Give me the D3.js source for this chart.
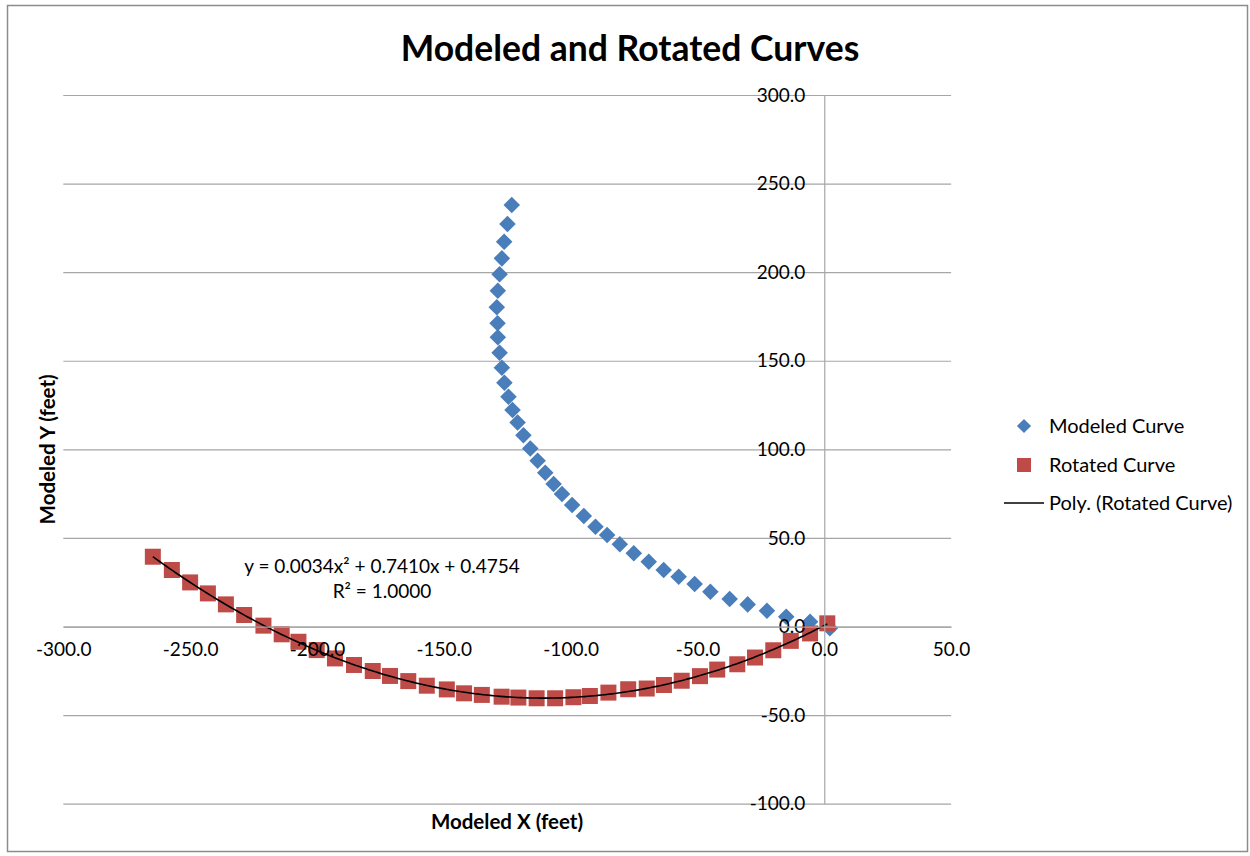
<!DOCTYPE html>
<html>
<head>
<meta charset="utf-8">
<script src="https://cdn.jsdelivr.net/npm/d3@7"></script>
<style>
  html, body { margin: 0; padding: 0; background: #fff; }
  svg { display: block; font-family: Lato, Carlito, Calibri, "Open Sans", sans-serif; }
</style>
</head>
<body>
<svg id="chart" width="1250" height="856"></svg>
<script>
// ---- data ----
const modeledX = [-123.2, -124.9, -126.2, -127.1, -128.0, -128.7, -129.1, -128.8, -128.7, -128.0,
  -127.1, -126.1, -124.5, -122.9, -120.9, -118.6, -115.9, -113.0, -110.0, -106.7,
  -103.4, -99.4, -94.8, -90.2, -85.6, -80.6, -75.1, -69.2, -63.3, -57.4,
  -51.1, -44.9, -37.3, -30.2, -22.6, -15.0, -5.6, 2.2];
const modeledY = [237.9, 227.2, 217.2, 207.8, 198.8, 189.5, 180.2, 171.2, 163.3, 154.5,
  146.1, 137.6, 129.7, 122.2, 115.2, 108.0, 100.5, 93.6, 86.8, 80.4,
  74.8, 68.6, 62.4, 56.3, 51.7, 46.4, 41.3, 36.6, 31.9, 28.1,
  24.0, 19.6, 15.5, 12.5, 8.9, 5.5, 2.7, -1.0];
const rotatedX = [-264.7, -257.2, -250.0, -243.0, -235.9, -228.7, -221.1, -213.9, -207.3, -200.1,
  -192.9, -185.4, -178.0, -171.2, -164.0, -156.7, -148.8, -142.0, -135.0, -127.2,
  -120.6, -113.4, -106.1, -98.9, -92.4, -85.1, -77.3, -70.0, -63.2, -56.2,
  -49.0, -42.2, -34.3, -27.3, -20.1, -13.2, -5.6, 1.2];
const rotatedY = [39.4, 31.9, 24.9, 18.7, 12.5, 6.5, 0.5, -4.4, -8.6, -13.3,
  -18.0, -21.7, -25.1, -27.9, -30.8, -33.4, -35.5, -37.7, -38.6, -39.6,
  -40.1, -40.5, -40.5, -39.9, -39.2, -37.3, -35.4, -35.0, -33.0, -30.6,
  -28.0, -24.3, -21.3, -17.5, -13.4, -8.1, -3.9, 1.8];
const xTicks = [-300, -250, -200, -150, -100, -50, 0, 50];
const yTicks = [-100, -50, 0, 50, 100, 150, 200, 250, 300];
const seriesNames = ["Modeled Curve", "Rotated Curve", "Poly. (Rotated Curve)"];
const titleText = "Modeled and Rotated Curves";
const xTitle = "Modeled X (feet)";
const yTitle = "Modeled Y (feet)";
const eqLines = ["y = 0.0034x\u00B2 + 0.7410x + 0.4754", "R\u00B2 = 1.0000"];

// ---- setup ----
const svg = d3.select("#chart");
const blue = "#4A7EBB", red = "#BE4B48", grid = "#A6A6A6";
const fmt = d => d.toFixed(1);

const x = d3.scaleLinear().domain([-300, 50]).range([63.3, 951.1]);
const y = d3.scaleLinear().domain([-100, 300]).range([803.7, 95.0]);

// outer border
svg.append("rect").attr("x", 7.5).attr("y", 5.5).attr("width", 1240).attr("height", 846)
  .attr("fill", "none").attr("stroke", "#8C8C8C").attr("stroke-width", 1.5);

// horizontal gridlines
const gGrid = svg.append("g").attr("transform", `translate(${x(-300)},0)`)
  .call(d3.axisLeft(y).tickValues(yTicks).tickSize(-(x(50) - x(-300))).tickFormat(""));
gGrid.select(".domain").remove();
gGrid.selectAll(".tick line").attr("stroke", grid).attr("stroke-width", 1.2);

// vertical axis line at x = 0
const gY = svg.append("g").attr("transform", `translate(${x(0)},0)`)
  .call(d3.axisLeft(y).tickValues(yTicks).tickSize(0).tickSizeOuter(0).tickPadding(19)
    .tickFormat(fmt));
gY.select(".domain").attr("stroke", grid).attr("stroke-width", 1.2);

// horizontal axis at y = 0
const gX = svg.append("g").attr("transform", `translate(0,${y(0)})`)
  .call(d3.axisBottom(x).tickValues(xTicks).tickSize(0).tickSizeOuter(0).tickPadding(16)
    .tickFormat(fmt));
gX.select(".domain").attr("stroke", grid).attr("stroke-width", 1.2);

// series: modeled (diamonds)
const diamond = d3.symbol().type(d3.symbolSquare).size(11.7 * 11.7);
svg.append("g").selectAll("path").data(modeledX.map((v, i) => [v, modeledY[i]])).join("path")
  .attr("d", diamond)
  .attr("transform", d => `translate(${x(d[0])},${y(d[1])}) rotate(45)`)
  .attr("fill", blue);

// series: rotated (squares)
const square = d3.symbol().type(d3.symbolSquare).size(16 * 16);
svg.append("g").selectAll("path").data(rotatedX.map((v, i) => [v, rotatedY[i]])).join("path")
  .attr("d", square)
  .attr("transform", d => `translate(${x(d[0])},${y(d[1])})`)
  .attr("fill", red);

// polynomial (order 2) least-squares trendline of the rotated curve
function polyFit2(xs, ys) {
  let S = Array(5).fill(0), T = Array(3).fill(0);
  xs.forEach((xv, i) => {
    for (let k = 0; k < 5; k++) S[k] += Math.pow(xv, k);
    for (let k = 0; k < 3; k++) T[k] += Math.pow(xv, k) * ys[i];
  });
  const A = [[S[0], S[1], S[2], T[0]], [S[1], S[2], S[3], T[1]], [S[2], S[3], S[4], T[2]]];
  for (let c = 0; c < 3; c++) {
    let p = c;
    for (let r = c + 1; r < 3; r++) if (Math.abs(A[r][c]) > Math.abs(A[p][c])) p = r;
    [A[c], A[p]] = [A[p], A[c]];
    for (let r = 0; r < 3; r++) if (r !== c) {
      const f = A[r][c] / A[c][c];
      for (let k = c; k < 4; k++) A[r][k] -= f * A[c][k];
    }
  }
  return [A[0][3] / A[0][0], A[1][3] / A[1][1], A[2][3] / A[2][2]];
}
const coef = polyFit2(rotatedX, rotatedY);
const xMin = d3.min(rotatedX), xMax = d3.max(rotatedX);
const trend = d3.range(0, 201).map(i => {
  const xv = xMin + (xMax - xMin) * i / 200;
  return [xv, coef[0] + coef[1] * xv + coef[2] * xv * xv];
});
svg.append("path").datum(trend)
  .attr("d", d3.line().x(d => x(d[0])).y(d => y(d[1])))
  .attr("fill", "none").attr("stroke", "#000").attr("stroke-width", 1.6);

// tick label styling (drawn above the marks)
[gY, gX].forEach(g => {
  g.raise();
  g.selectAll(".tick text").attr("font-size", 19).attr("fill", "#000")
    .attr("font-family", "Lato, Carlito, Calibri, sans-serif");
});

// trendline equation
svg.append("g").selectAll("text").data(eqLines).join("text")
  .attr("x", 382).attr("y", (d, i) => 573 + i * 25)
  .attr("text-anchor", "middle").attr("font-size", 19).attr("fill", "#000")
  .text(d => d);

// title
svg.append("text").attr("x", 630).attr("y", 61).attr("text-anchor", "middle")
  .attr("font-size", 35.5).attr("font-weight", "bold").attr("fill", "#000").text(titleText);

// axis titles
svg.append("text").attr("x", 507).attr("y", 829).attr("text-anchor", "middle")
  .attr("font-size", 20.5).attr("font-weight", "bold").attr("fill", "#000").text(xTitle);
svg.append("text").attr("transform", `translate(55,${(y(-100) + y(300)) / 2}) rotate(-90)`)
  .attr("text-anchor", "middle").attr("font-size", 20.5).attr("font-weight", "bold")
  .attr("fill", "#000").text(yTitle);

// legend
const lg = svg.append("g");
lg.append("path").attr("d", d3.symbol().type(d3.symbolSquare).size(10 * 10))
  .attr("transform", "translate(1024,426) rotate(45)").attr("fill", blue);
lg.append("path").attr("d", d3.symbol().type(d3.symbolSquare).size(14 * 14))
  .attr("transform", "translate(1024,465)").attr("fill", red);
lg.append("line").attr("x1", 1004).attr("x2", 1044).attr("y1", 503).attr("y2", 503)
  .attr("stroke", "#000").attr("stroke-width", 1.6);
lg.selectAll("text").data(seriesNames).join("text")
  .attr("x", 1049).attr("y", (d, i) => 426 + i * 38.5).attr("dy", "0.35em")
  .attr("font-size", 20).attr("fill", "#000").text(d => d);
</script>
</body>
</html>
